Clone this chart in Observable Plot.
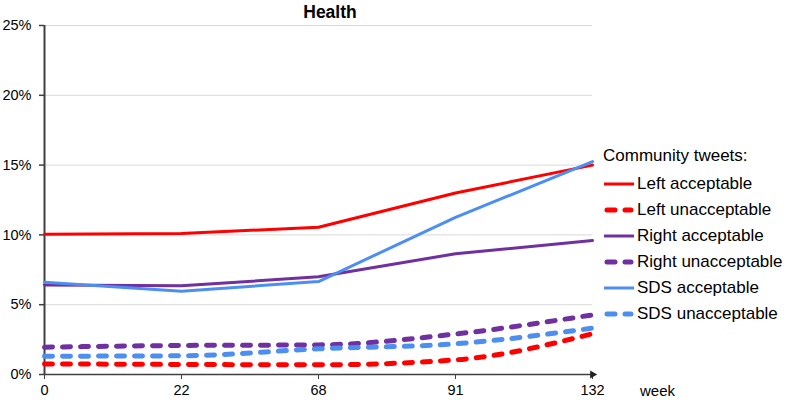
<!DOCTYPE html>
<html>
<head>
<meta charset="utf-8">
<script src="https://cdn.jsdelivr.net/npm/d3@7"></script>
<script src="https://cdn.jsdelivr.net/npm/@observablehq/plot@0.6"></script>
<style>
  body { margin: 0; background: #fff; }
  #wrap { position: relative; width: 788px; height: 400px; font-family: "Liberation Sans", Arial, sans-serif; color: #000; }
  #title { position: absolute; left: 270px; width: 120px; text-align: center; top: 2px; font-weight: bold; font-size: 17.5px; }
  #legend { position: absolute; left: 603px; top: 144px; font-size: 17px; }
  #legend .hdr { height: 27px; line-height: 24px; }
  #legend .row { height: 26px; display: flex; align-items: center; }
  #legend svg { margin-right: 2px; }
</style>
</head>
<body>
<div id="wrap">
  <div id="chart"></div>
  <div id="title">Health</div>
  <div id="legend"></div>
</div>
<script>
const weeks = ["0", "22", "68", "91", "132"];
const seriesNames = ["Left acceptable", "Left unacceptable", "Right acceptable", "Right unacceptable", "SDS acceptable", "SDS unacceptable"];
const leftAcceptable     = [10.05, 10.1, 10.55, 13.0, 15.0];
const leftUnacceptable   = [0.76, 0.72, 0.69, 1.05, 2.92];
const rightAcceptable    = [6.42, 6.35, 7.0, 8.65, 9.6];
const rightUnacceptable  = [1.96, 2.08, 2.12, 2.9, 4.27];
const sdsAcceptable      = [6.6, 5.97, 6.66, 11.25, 15.25];
const sdsUnacceptable    = [1.31, 1.34, 1.84, 2.2, 3.32];
const yTicks = [0, 5, 10, 15, 20, 25];

const colors = {"Left": "#ff0000", "Right": "#7030a0", "SDS": "#4d8ff0"};
const seriesValues = [leftAcceptable, leftUnacceptable, rightAcceptable, rightUnacceptable, sdsAcceptable, sdsUnacceptable];

const data = [];
seriesNames.forEach((name, i) => {
  weeks.forEach((w, j) => data.push({series: name, week: w, value: seriesValues[i][j] / 100}));
});

const solidNames = seriesNames.filter(n => !n.includes("unacceptable"));
const dashedNames = seriesNames.filter(n => n.includes("unacceptable"));
const colorOf = n => colors[n.split(" ")[0]];

const marks = [
  Plot.gridY(yTicks.map(t => t / 100), {stroke: "#d9d9d9", strokeOpacity: 1, strokeWidth: 1}),
  Plot.axisY(yTicks.map(t => t / 100), {tickFormat: d3.format(".0%"), tickSize: 5, tickPadding: 8, stroke: "#404040", strokeWidth: 1.5, fontSize: 14.5}),
  Plot.axisX({tickSize: 5, tickPadding: 5, stroke: "#404040", fontSize: 14.5, label: null}),
  Plot.ruleY([0], {stroke: "#404040", strokeWidth: 1.5}),
  Plot.ruleX([weeks[0]], {stroke: "#404040", strokeWidth: 2}),
  Plot.dot([weeks[weeks.length - 1]], {x: d => d, y: () => 0, symbol: "triangle", rotate: 90, r: 3, fill: "#202020", stroke: null}),
  Plot.text(["week"], {x: () => weeks[weeks.length - 1], y: () => 0, dx: 65, dy: 17, fontSize: 15, fill: "#000"})
];
for (const name of dashedNames) {
  marks.push(Plot.line(data.filter(d => d.series === name), {
    x: "week", y: "value", stroke: colorOf(name), strokeWidth: 5,
    strokeDasharray: "8,10", strokeLinecap: "round", curve: "monotone-x"
  }));
}
for (const name of solidNames) {
  marks.push(Plot.line(data.filter(d => d.series === name), {
    x: "week", y: "value", stroke: colorOf(name), strokeWidth: 3, curve: "linear"
  }));
}

const chart = Plot.plot({
  width: 788,
  height: 400,
  marginLeft: 44,
  marginRight: 196,
  marginTop: 25,
  marginBottom: 26,
  x: {type: "point", domain: weeks, padding: 0, label: null},
  y: {domain: [0, 0.25], label: null},
  style: {fontFamily: "'Liberation Sans', Arial, sans-serif", fontSize: "14.5px", color: "#000", background: "#fff", overflow: "visible"},
  marks
});
document.getElementById("chart").appendChild(chart);

// legend
const legend = document.getElementById("legend");
const hdr = document.createElement("div");
hdr.className = "hdr";
hdr.textContent = "Community tweets:";
legend.appendChild(hdr);
for (const name of seriesNames) {
  const row = document.createElement("div");
  row.className = "row";
  const dashed = name.includes("unacceptable");
  const c = colorOf(name);
  row.innerHTML = `<svg width="32" height="8"><line x1="${dashed ? 4 : 1}" y1="4" x2="${dashed ? 28 : 31}" y2="4" stroke="${c}" stroke-width="${dashed ? 5 : 3}" ${dashed ? 'stroke-dasharray="8,10" stroke-linecap="round"' : ''}/></svg><span>${name}</span>`;
  legend.appendChild(row);
}
</script>
</body>
</html>
